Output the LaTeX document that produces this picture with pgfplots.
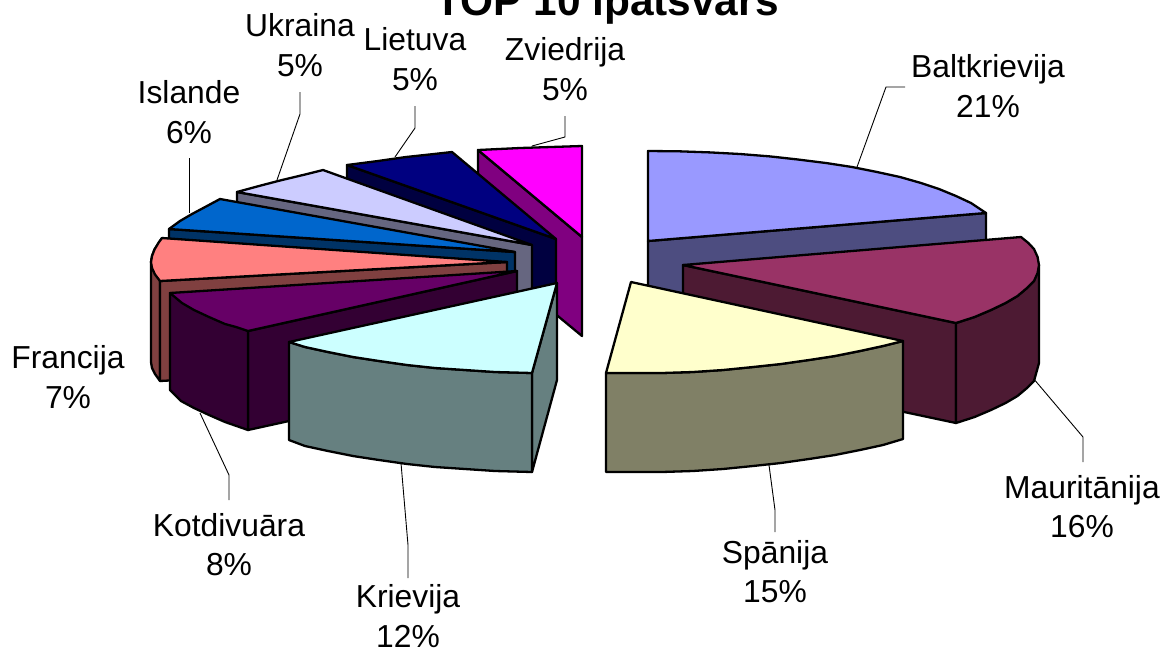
\documentclass[border=0pt]{standalone}
\usepackage{pgfplots}
\pgfplotsset{compat=1.18}
\usepackage{fontspec}
\setmainfont{Liberation Sans}
\definecolor{c1}{HTML}{9999FF}\definecolor{s1}{HTML}{4D4D80}
\definecolor{c2}{HTML}{993366}\definecolor{s2}{HTML}{4D1A33}
\definecolor{c3}{HTML}{FFFFCC}\definecolor{s3}{HTML}{808066}
\definecolor{c4}{HTML}{CCFFFF}\definecolor{s4}{HTML}{668080}
\definecolor{c5}{HTML}{660066}\definecolor{s5}{HTML}{330033}
\definecolor{c6}{HTML}{FF8080}\definecolor{s6}{HTML}{804040}
\definecolor{c7}{HTML}{0066CC}\definecolor{s7}{HTML}{003366}
\definecolor{c8}{HTML}{CCCCFF}\definecolor{s8}{HTML}{666680}
\definecolor{c9}{HTML}{000080}\definecolor{s9}{HTML}{000040}
\definecolor{c10}{HTML}{FF00FF}\definecolor{s10}{HTML}{800080}
\newcommand{\lab}[5]{\node[anchor=base,inner sep=0pt,font=\fontsize{15.9}{18}\selectfont] at (axis cs:#1,#2) {#3};\node[anchor=base,inner sep=0pt,font=\fontsize{15.9}{18}\selectfont] at (axis cs:#1,#2+#5) {#4};}
\pgfplotsset{sl/.style={draw=black,line width=1.15pt,line join=round,fill=#1},
 ld/.style={draw=black,line width=0.45pt}}
\begin{document}
\begin{tikzpicture}
\begin{axis}[scale only axis,width=582pt,height=325pt,xmin=0,xmax=1164,ymin=0,ymax=650,y dir=reverse,hide axis,clip=true,clip mode=global]
% leader lines
\addplot[ld] coordinates {(857,167)(886,87)(905,87)};
\addplot[ld] coordinates {(1033,378)(1083,437)(1083,462)};
\addplot[ld] coordinates {(769,465)(775,510)(775,532)};
\addplot[ld] coordinates {(401,463)(408,545)(408,578)};
\addplot[ld] coordinates {(200,413)(229,475)(229,500)};
\addplot[ld] coordinates {(189,158)(189,213)};
\addplot[ld] coordinates {(277,180)(300,114)(300,92)};
\addplot[ld] coordinates {(395,157)(415,128)(415,106)};
\addplot[ld] coordinates {(532,146)(565,137)(565,116)};
% Baltkrievija
\addplot[sl=s1] coordinates {(648,241)(986,213)(986,300)(648,300)} --cycle;
\addplot[sl=c1] coordinates {(648,151)(679,151.3)(710,152.4)(740,154)(770,156.4)(798,159.5)(826,163)(852,167)(877,172)(900,177)(921,183)(939,189)(956,196)(971,203)(986,213)(648,241)} --cycle;
% Zviedrija
\addplot[sl=s10] coordinates {(478,150)(582,237)(582,336)(478,250)} --cycle;
\addplot[sl=c10] coordinates {(478,150)(520,148)(551,147)(582,146)(582,237)} --cycle;
% Lietuva
\addplot[sl=s9] coordinates {(347,165)(556,239)(556,339)(347,265)} --cycle;
\addplot[sl=c9] coordinates {(347,165)(378,161)(406,157)(434,154)(452,152)(556,239)} --cycle;
% Ukraina
\addplot[sl=s8] coordinates {(237,192)(532,245)(532,345)(237,292)} --cycle;
\addplot[sl=c8] coordinates {(237,192)(259,186)(280,180.5)(303,175)(323,170)(532,245)} --cycle;
% Islande
\addplot[sl=s7] coordinates {(169,229)(515,252)(515,352)(169,329)} --cycle;
\addplot[sl=c7] coordinates {(169,229)(180,221)(192,214)(207,206)(220,199)(515,252)} --cycle;
% Francija
\addplot[sl=s6] coordinates {(162,238)(154.5,249.5)(152,256)(151,262)(151,362)(152,368)(155,374)(160,381)(160,281)} --cycle;
\addplot[sl=s6] coordinates {(160,281)(507,262)(507,362)(160,381)} --cycle;
\addplot[sl=c6] coordinates {(162,238)(159,242)(154.5,249.5)(152,256)(151,262)(152,268)(155,274.5)(160,281)(507,262)} --cycle;
% Kotdivuara
\addplot[sl=s5] coordinates {(248,331)(517,271)(517,371)(248,430)} --cycle;
\addplot[sl=s5] coordinates {(170,293)(170,390)(181,401)(194,408)(209,415)(225,422)(248,430)(248,331)} --cycle;
\addplot[sl=c5] coordinates {(170,293)(182,303)(194,310)(209,317)(225,324)(236,327)(248,331)(517,271)} --cycle;
% Mauritanija
\addplot[sl=s2] coordinates {(683,265)(956,323)(956,423)(683,365)} --cycle;
\addplot[sl=s2] coordinates {(956,323)(974.6,317)(991,310)(1005.6,303)(1017.5,296)(1027,288)(1034,281)(1039,265)(1039,363)(1034,381)(1027,388)(1017.5,396)(1005.6,403)(991,410)(974.6,417)(956,423)} --cycle;
\addplot[sl=c2] coordinates {(683,265)(1021,237)(1028.4,243)(1034,249)(1037.6,257)(1039,265)(1037.6,273)(1034,281)(1027,288)(1017.5,296)(1005.6,303)(991,310)(974.6,317)(956,323)} --cycle;
% Spanija
\addplot[sl=s3] coordinates {(606,373)(631,373)(662,373)(693,372)(723,370)(753,367)(781,364)(809,360)(835,356)(860,351)(883,346)(903,341)(903,439)(883,445)(860,450)(835,455)(809,459)(781,463)(753,466)(723,469)(693,471)(662,472)(631,472)(606,472)} --cycle;
\addplot[sl=c3] coordinates {(631,282)(903,341)(883,346)(860,351)(835,356)(809,360)(781,364)(753,367)(723,370)(693,372)(662,373)(631,373)(606,373)} --cycle;
% Krievija
\addplot[sl=s4] coordinates {(532,373)(557,283)(557,380)(532,472)} --cycle;
\addplot[sl=s4] coordinates {(289,342)(305,347)(328,352)(353,357)(379,361)(407,365)(435,368)(465,370)(495,372)(532,373)(532,472)(495,471)(465,469)(435,467)(407,464)(379,460)(353,456)(328,451)(305,446)(289,440)} --cycle;
\addplot[sl=c4] coordinates {(557,283)(289,342)(305,347)(328,352)(353,357)(379,361)(407,365)(435,368)(465,370)(495,372)(532,373)} --cycle;
% labels
\node[anchor=base,inner sep=0pt,font=\fontsize{21.2}{24}\selectfont\bfseries] at (axis cs:607,15) {TOP 10 īpatsvars};
\lab{988}{77}{Baltkrievija}{21\%}{40}
\lab{1082}{498}{Mauritānija}{16\%}{39}
\lab{775}{563}{Spānija}{15\%}{39}
\lab{408}{607}{Krievija}{12\%}{40}
\lab{229}{536}{Kotdivuāra}{8\%}{39}
\lab{68}{368}{Francija}{7\%}{40}
\lab{189}{103}{Islande}{6\%}{40}
\lab{300}{36}{Ukraina}{5\%}{40}
\lab{415}{50}{Lietuva}{5\%}{40}
\lab{565}{60}{Zviedrija}{5\%}{40}
\end{axis}
\pgfresetboundingbox
\useasboundingbox (0,0) rectangle (582pt,325pt);
\end{tikzpicture}
\end{document}
